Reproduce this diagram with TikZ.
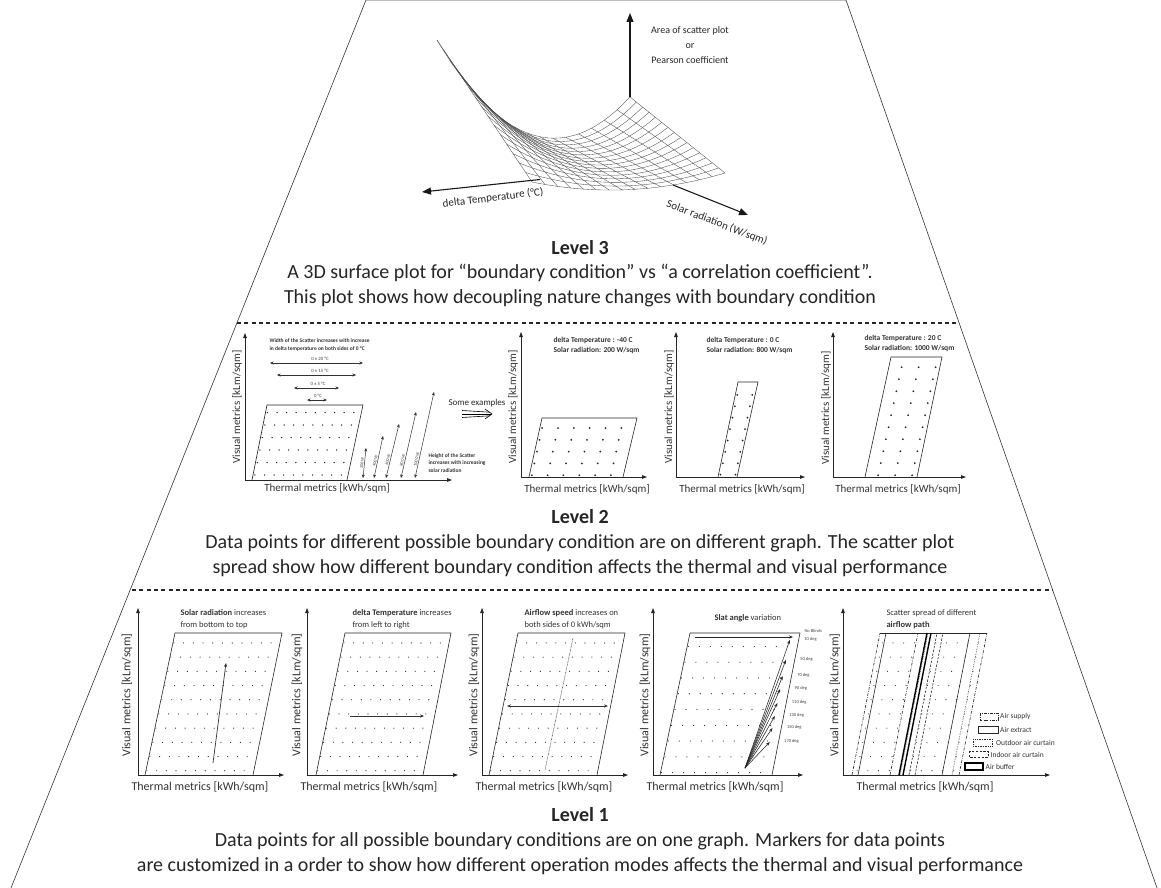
\documentclass[tikz,border=0pt]{standalone}
\usepackage{fontspec}
\setmainfont{Carlito}
\usetikzlibrary{arrows.meta}
\newcommand\fs[2]{\fontsize{#1}{#2}\selectfont}
% #1 BLx #2 BLy #3 TLx #4 TLy #5 width #6 rows #7 cols #8 s-offset #9 t-offset
\newcommand\dotgrid[9]{%
 \foreach \jj in {1,...,#6}{%
  \foreach \ii in {1,...,#7}{%
   \pgfmathsetmacro\dgt{(\jj-#9)/#6}%
   \pgfmathsetmacro\dgs{(\ii-#8)/#7}%
   \fill[black!85] ({#1+\dgt*(#3-#1)+\dgs*#5},{#2+\dgt*(#4-#2)}) circle[radius=\dotr];%
  }}}
\def\dotr{0.7pt}
\begin{document}
\begin{tikzpicture}[x=1pt,y=-1pt,
 declare function={
  zz(\uq,\vq)=(1-\vq)*(72-189.7*\uq+266.7*\uq*\uq)+\vq*(34-37.6*\uq+48.6*\uq*\uq);
  sx(\uq,\vq)=630-193*\uq+95*\vq;
  sy(\uq,\vq)=169+20*\uq+38*\vq-zz(\uq,\vq);},
 ax/.style={line width=0.8pt,black!85,-{Triangle[length=5pt,width=3.6pt]}},
 ax3/.style={line width=1.1pt,black!90,-{Triangle[length=9pt,width=7pt]}},
 para/.style={line width=0.6pt,black!85},
 lvl/.style={font=\fs{20}{24}\bfseries,text=black!85},
 body/.style={font=\fs{20}{24},text=black!85},
 labA/.style={font=\fs{12}{14},text=black!80},
 labB/.style={font=\fs{11}{13},text=black!80},
 sep/.style={line width=1.6pt,black!85,dash pattern=on 4pt off 3.3pt},
 edge/.style={line width=0.6pt,black!80},
 mesh/.style={line width=0.35pt,black!70},
 thinar/.style={line width=0.5pt,black!80},
 dashdot/.style={dash pattern=on 3pt off 1.3pt on 0.6pt off 1.3pt},
 dotl/.style={dash pattern=on 0.6pt off 1.1pt},
 dashl/.style={dash pattern=on 2.4pt off 1.4pt},
]
\useasboundingbox (0,0) rectangle (1161,888);
\fill[white] (0,0) rectangle (1161,888);

% ---------- outline ----------
\draw[line width=1pt,black!25] (366,1) -- (846,1);
\draw[edge] (366,0) -- (11,888);
\draw[edge] (846,0) -- (1157,888);
\draw[sep] (237,323) -- (959,323);
\draw[sep] (132,590) -- (1052,590);

% ---------- Level 3 surface ----------
\foreach \k in {0,...,15}{
  \pgfmathsetmacro\uu{\k/15}
  \draw[mesh] plot[domain=0:1,samples=15] ({sx(\uu,\x)},{sy(\uu,\x)});
  \draw[mesh] plot[domain=0:1,samples=29] ({sx(\x,\uu)},{sy(\x,\uu)});
}
\draw[ax3] (630,97) -- (630,13);
\draw[ax3] (540,179.5) -- (422,192);
\draw[ax3] (673,185) -- (748,215);
\node[font=\fs{10}{15},text=black!85,align=center] (zlab) at (690,45) {Area of scatter plot\\or\\Pearson coefficient};
\node[font=\fs{11}{13},text=black!85,rotate=7] (tlab) at (493,198) {delta Temperature (°C)};
\node[font=\fs{11}{13},text=black!85,rotate=-21] (slab) at (717,223) {Solar radiation (W/sqm)};

\node[lvl] (L3) at (580,248) {Level 3};
\node[body] (L3a) at (580,273) {A 3D surface plot for “boundary condition” vs “a correlation coefficient”.};
\node[body] (L3b) at (580,298) {This plot shows how decoupling nature changes with boundary condition};

% ---------- Level 2 ----------
% left explanatory plot
\draw[ax] (245,480) -- (245,333);
\draw[ax] (245,480) -- (452,480);
\draw[para] (252,480) -- (267,405) -- (363,405) -- (347,480);
\def\dotr{0.75pt}
\dotgrid{252}{480}{267}{405}{96}{6}{10}{0.8}{0.6}
\node[labB,rotate=90] (l2y0) at (237,407) {Visual metrics [kLm/sqm]};
\node[labB] (l2x0) at (327,488) {Thermal metrics [kWh/sqm]};
\node[font=\fs{5.5}{8}\bfseries,text=black!80,align=left,anchor=west] (wtxt) at (266,345) {Width of the Scatter increases with increase\\in delta temperature on both sides of 0 °C};
\draw[thinar,{Stealth[length=3.5pt,width=3pt]}-{Stealth[length=3.5pt,width=3pt]}] (270,363) -- (363,363);
\draw[thinar,{Stealth[length=3.5pt,width=3pt]}-{Stealth[length=3.5pt,width=3pt]}] (277,375) -- (356,375);
\draw[thinar,{Stealth[length=3.5pt,width=3pt]}-{Stealth[length=3.5pt,width=3pt]}] (294,388) -- (339,388);
\draw[thinar,{Stealth[length=3.5pt,width=3pt]}-{Stealth[length=3.5pt,width=3pt]}] (307,400) -- (327,400);
\node[font=\fs{4.8}{6},text=black!75] (w1) at (320,358.5) {0 ± 20 °C};
\node[font=\fs{4.8}{6},text=black!75] (w2) at (320,371) {0 ± 15 °C};
\node[font=\fs{4.8}{6},text=black!75] (w3) at (318,384) {0 ± 5 °C};
\node[font=\fs{4.8}{6},text=black!75] (w4) at (318,396) {0 °C};
\foreach \bx/\by/\tx/\ty/\p/\t in {363/478/366/448/0.5/200 W/sqm, 374/478/383/436/0.4/400 W/sqm, 386/478/399/424/0.32/600 W/sqm, 401/478/416/412/0.26/800 W/sqm, 415/478/434/392/0.21/1000 W/sqm}{
  \draw[thinar,{Stealth[length=3.5pt,width=3pt]}-{Stealth[length=3.5pt,width=3pt]}] (\bx,\by) -- node[pos=\p,sloped,above,font=\fs{4.3}{5},text=black!75,inner sep=0.8pt] {\t} (\tx,\ty);
}
\node[font=\fs{5.5}{7.5}\bfseries,text=black!80,align=left,anchor=west] (htxt) at (425,463) {Height of the Scatter\\increases with increasing\\solar radiation};
\node[font=\fs{9}{11},text=black!85] (some) at (477,403) {Some examples};
\draw[line width=0.6pt] (462,410.5) -- (490,412.2);
\draw[line width=0.6pt] (462,414) -- (491,414);
\draw[line width=0.6pt] (462,417.5) -- (490,415.8);
\draw[line width=0.6pt] (485,409) -- (492,414) -- (485,419);

% example A
\draw[ax] (521,477) -- (521,332);
\draw[ax] (521,477) -- (647,477);
\draw[para] (529,477) -- (542,418) -- (637,418) -- (623,477);
\def\dotr{1pt}
\dotgrid{529}{477}{542}{418}{95}{5}{6}{0.85}{0.85}
\node[labB,rotate=90] (l2yA) at (513,407) {Visual metrics [kLm/sqm]};
\node[labB] (l2xA) at (587,489) {Thermal metrics [kWh/sqm]};
\node[font=\fs{7.5}{9.5}\bfseries,text=black!80,align=left,anchor=west] (tA) at (550,345.5) {delta Temperature : -40 C\\Solar radiation: 200 W/sqm};
% example B
\draw[ax] (676,477) -- (676,332);
\draw[ax] (676,477) -- (805,477);
\draw[para] (718,477) -- (738,382) -- (758,382) -- (737,477);
\foreach \jj in {1,...,8}{
  \pgfmathsetmacro\dgt{(\jj-0.8)/8*0.96}
  \fill[black!85] ({718+\dgt*20+2},{477-\dgt*95}) circle[radius=1pt];
  \fill[black!85] ({718+\dgt*20+17},{477-\dgt*95}) circle[radius=1pt];
}
\node[labB,rotate=90] (l2yB) at (669,407) {Visual metrics [kLm/sqm]};
\node[labB] (l2xB) at (742,489) {Thermal metrics [kWh/sqm]};
\node[font=\fs{7.5}{9.5}\bfseries,text=black!80,align=left,anchor=west] (tB) at (703,345.5) {delta Temperature : 0 C\\Solar radiation: 800 W/sqm};
% example C
\draw[ax] (833,477) -- (833,332);
\draw[ax] (833,477) -- (966,477);
\draw[para] (865,477) -- (891,357) -- (942,357) -- (917,477);
\dotgrid{865}{477}{891}{357}{51}{10}{3}{0.25}{0.85}
\node[labB,rotate=90] (l2yC) at (826,408) {Visual metrics [kLm/sqm]};
\node[labB] (l2xC) at (898,489) {Thermal metrics [kWh/sqm]};
\node[font=\fs{7.5}{9.5}\bfseries,text=black!80,align=left,anchor=west] (tC) at (861,343.5) {delta Temperature : 20 C\\Solar radiation: 1000 W/sqm};

\node[lvl] (L2) at (580,517) {Level 2};
\node[body] (L2a) at (580,543) {Data points for different possible boundary condition are on different graph. The scatter plot};
\node[body] (L2b) at (580,568) {spread show how different boundary condition affects the thermal and visual performance};

% ---------- Level 1 ----------
\def\dotr{0.6pt}
% plot 1
\draw[ax] (138,775) -- (138,608);
\draw[ax] (138,775) -- (284,775);
\draw[para] (145,775) -- (175,633) -- (282,633) -- (253,775);
\dotgrid{145}{775}{175}{633}{107}{10}{11}{0.9}{0.7}
\draw[thinar,line width=0.7pt,-{Stealth[length=4pt,width=3.2pt]}] (213,763) -- (226,663);
\node[labA,rotate=90] (y1) at (127,695) {Visual metrics [kLm/sqm]};
\node[labA] (x1) at (200,787) {Thermal metrics [kWh/sqm]};
\node[font=\fs{8.5}{12},text=black!80,align=left,anchor=west] (t1) at (177,619) {\textbf{Solar radiation} increases\\from bottom to top};
% plot 2
\draw[ax] (307,775) -- (307,608);
\draw[ax] (307,775) -- (458,775);
\draw[para] (316,775) -- (345,633) -- (451,633) -- (423,775);
\dotgrid{316}{775}{345}{633}{106}{10}{11}{0.9}{0.7}
\draw[thinar,line width=0.7pt,-{Stealth[length=4pt,width=3.2pt]}] (350,716) -- (424,716);
\node[labA,rotate=90] (y2) at (297,695) {Visual metrics [kLm/sqm]};
\node[labA] (x2) at (369,787) {Thermal metrics [kWh/sqm]};
\node[font=\fs{8.5}{12},text=black!80,align=left,anchor=west] (t2) at (349,619) {\textbf{delta Temperature} increases\\from left to right};
% plot 3
\draw[ax] (482,775) -- (482,608);
\draw[ax] (482,775) -- (628,775);
\draw[para] (489,775) -- (518,633) -- (625,633) -- (597,775);
\dotgrid{489}{775}{518}{633}{107}{10}{11}{0.9}{0.7}
\draw[line width=0.5pt,black!80,dash pattern=on 0.7pt off 0.7pt] (545,770) -- (573,638);
\draw[thinar,line width=0.8pt,{Stealth[length=4pt,width=3.2pt]}-{Stealth[length=4pt,width=3.2pt]}] (507,706) -- (608,706);
\node[labA,rotate=90] (y3) at (474,695) {Visual metrics [kLm/sqm]};
\node[labA] (x3) at (544,787) {Thermal metrics [kWh/sqm]};
\node[font=\fs{8.5}{12},text=black!80,align=left,anchor=west] (t3) at (521,619) {\textbf{Airflow speed} increases on\\both sides of 0 kWh/sqm};
% plot 4
\draw[ax] (653,775) -- (653,608);
\draw[ax] (653,775) -- (803,775);
\draw[para] (660,775) -- (690,633) -- (800,633) -- (772,775);
\dotgrid{660}{775}{690}{633}{110}{9}{10}{0.9}{0.85}
\node[labA,rotate=90] (y4) at (645,695) {Visual metrics [kLm/sqm]};
\node[labA] (x4) at (715,787) {Thermal metrics [kWh/sqm]};
\node[font=\fs{8.5}{12},text=black!80,anchor=west] (t4) at (711,618) {\textbf{Slat angle} variation};
\draw[line width=0.9pt,black!85,-{Stealth[length=4pt,width=3.2pt]}] (695,637) -- (793,637);
\node[font=\fs{4.5}{5},text=black!75,anchor=west] (nb) at (801,631) {No Blinds};
\coordinate (fan) at (745,768);
\foreach \yy/\t in {639/10 deg,659/50 deg,675/70 deg,688/90 deg,702/110 deg,715/130 deg,727/150 deg,741/170 deg}{
  \pgfmathsetmacro\ex{800-(\yy-633)*28/142}
  \draw[line width=0.55pt,black!85,-{Stealth[length=4pt,width=3pt]}] (fan) -- ({\ex-9},{\yy+1});
  \node[font=\fs{4.5}{5},text=black!75,anchor=west] at ({\ex+2},\yy) {\t};
}
% plot 5
\draw[ax] (843,775) -- (843,608);
\draw[ax] (843,775) -- (1050,775);
\def\dotr{0.55pt}
\dotgrid{852}{775}{880}{633}{107}{10}{10}{0.6}{0.7}
\draw[para] (880,633) -- (987,633);
\draw[para] (858,775) -- (886,633);
\draw[para] (942,775) -- (970,633);
\draw[para,dashdot] (852,775) -- (880,633);
\draw[para,dashdot] (890,775) -- (918,633);
\draw[para,dashdot] (959,775) -- (987,633);
\draw[para,dotl] (900,775) -- (928,633);
\draw[para,dotl] (952,775) -- (980,633);
\draw[para,dashl] (909,775) -- (937,633);
\draw[para,dashl] (915,775) -- (943,633);
\draw[line width=1.4pt] (899,775) -- (927,633);
\draw[line width=1.4pt] (903,775) -- (931,633);
\node[labA,rotate=90] (y5) at (835,695) {Visual metrics [kLm/sqm]};
\node[labA] (x5) at (925,787) {Thermal metrics [kWh/sqm]};
\node[font=\fs{8.5}{12},text=black!80,align=left,anchor=west] (t5) at (883,619) {Scatter spread of different\\\textbf{airflow path}};
% legend
\draw[para,dashdot] (980,713) rectangle (998,720);
\node[font=\fs{7.5}{9},text=black!80,anchor=west,inner sep=1pt] (lg1) at (999,716.5) {Air supply};
\draw[para] (978,726.5) rectangle (998,733);
\node[font=\fs{7.5}{9},text=black!80,anchor=west,inner sep=1pt] (lg2) at (999,729.5) {Air extract};
\draw[para,dotl] (973,739) rectangle (992,746);
\node[font=\fs{7.5}{9},text=black!80,anchor=west,inner sep=1pt] (lg3) at (995,742.5) {Outdoor air curtain};
\draw[para,dashl] (969,751) rectangle (988,757.5);
\node[font=\fs{7.5}{9},text=black!80,anchor=west,inner sep=1pt] (lg4) at (989.5,754.5) {Indoor air curtain};
\draw[line width=1.6pt] (965,763) rectangle (983,770);
\node[font=\fs{7.5}{9},text=black!80,anchor=west,inner sep=1pt] (lg5) at (984.5,766.5) {Air buffer};

\node[lvl] (L1) at (580,815) {Level 1};
\node[body] (L1a) at (580,841) {Data points for all possible boundary conditions are on one graph. Markers for data points};
\node[body] (L1b) at (580,866) {are customized in a order to show how different operation modes affects the thermal and visual performance};
\end{tikzpicture}
\end{document}
